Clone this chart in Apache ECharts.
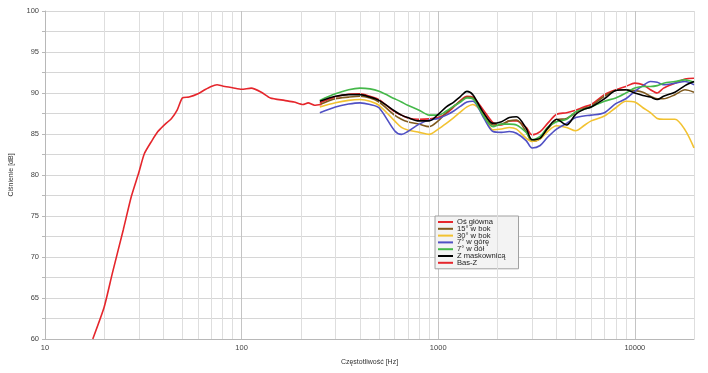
<!DOCTYPE html>
<html>
<head>
<meta charset="utf-8">
<script src="https://cdn.jsdelivr.net/npm/echarts@6/dist/echarts.min.js"></script>
<style>html,body{margin:0;padding:0;background:#fff;}#c{width:708px;height:373px;}</style>
</head>
<body>
<div id="c"></div>
<script>
// Frequencies (Hz) for the measured curves
var freqs = [250,300,350,400,450,500,600,650,700,800,900,1000,1100,1200,1300,1400,1500,1700,1900,2100,2300,2500,2800,3000,3300,3600,4000,4500,5000,5500,6000,7000,8000,9000,10000,11000,12000,13000,14000,16000,18000,20000];
var osGlowna   = [88.8,89.5,89.85,89.9,89.6,89.2,87.7,87.3,86.95,86.8,86.85,87.0,87.5,88.3,89.1,89.6,89.5,87.9,86.4,86.1,86.6,86.6,85.8,84.9,85.3,86.3,87.4,87.6,87.9,88.3,88.6,89.8,90.4,90.8,91.2,91.0,90.4,90.0,90.6,91.2,91.7,91.8];
var bok15      = [88.6,89.3,89.5,89.6,89.4,88.9,87.3,86.8,86.5,86.2,85.9,86.6,87.6,88.4,89.0,89.5,89.4,87.4,86.1,86.2,86.6,86.7,85.3,84.1,84.4,85.6,86.7,86.9,87.6,88.1,88.4,89.6,90.3,90.4,90.3,90.1,89.6,89.3,89.3,89.8,90.4,90.1];
var bok30      = [88.3,88.8,89.1,89.2,89.0,88.5,86.6,85.8,85.5,85.2,84.96,85.6,86.3,87.0,87.7,88.3,88.6,87.4,85.5,85.6,85.8,85.6,84.5,84.1,84.4,85.3,86.0,85.8,85.4,86.0,86.6,87.2,88.2,89.0,88.9,88.2,87.6,86.9,86.8,86.8,85.5,83.3];
var gora7      = [87.6,88.3,88.65,88.8,88.6,88.2,85.4,84.95,85.3,86.2,86.7,86.9,87.3,87.8,88.4,88.9,89.0,87.0,85.3,85.2,85.3,85.1,84.2,83.3,83.6,84.6,85.6,86.3,87.0,87.2,87.3,87.6,88.7,89.3,90.2,90.9,91.4,91.3,91.0,91.2,91.4,91.0];
var dol7       = [89.1,89.9,90.4,90.6,90.5,90.2,89.3,88.9,88.5,87.9,87.3,87.3,87.8,88.4,88.9,89.4,89.3,87.2,85.9,86.2,86.2,86.1,85.2,84.3,84.7,85.8,86.5,86.8,87.7,88.0,88.3,89.0,89.4,90.0,90.6,90.8,90.8,90.9,91.2,91.4,91.6,91.3];
var maskownica = [89.0,89.6,89.8,89.8,89.5,89.1,87.8,87.3,87.0,86.6,86.6,87.4,88.3,88.9,89.6,90.2,89.8,87.6,86.3,86.5,87.0,87.1,85.7,84.3,84.5,85.7,86.8,86.1,87.4,88.0,88.3,89.3,90.3,90.4,90.0,89.7,89.5,89.2,89.6,90.1,90.9,91.4];
// Bass driver curve
var basFreqs = [17.5,20,22,25,27.5,30,32,35,37.5,40,44,47,50,54,60,65,70,75,80,90,100,112,126,140,165,185,205,218,235,255];
var basZ     = [60,63.9,68.0,73.3,77.4,80.3,82.6,84.2,85.3,86.0,86.9,87.9,89.4,89.5,89.9,90.4,90.8,91.0,90.85,90.65,90.45,90.6,90.1,89.4,89.1,88.9,88.6,88.8,88.5,88.6];
// Minor grid frequencies
var minorFreqs = [20,30,40,50,60,70,80,90,200,300,400,500,600,700,800,900,2000,3000,4000,5000,6000,7000,8000,9000,20000];

var names = ['Oś główna','15° w bok','30° w bok','7° w górę','7° w dół','Z maskownicą','Bas-Z'];
var colors = ['#e5262c','#7f5a1e','#f2c230','#5050c4','#45b84a','#000000','#e5262c'];
var sets = [osGlowna,bok15,bok30,gora7,dol7,maskownica];

function pairs(xs, ys){ return xs.map(function(x,i){ return [x, ys[i]]; }); }

var series = [{
  type:'line', name:'_grid', data:[], silent:true, z:1,
  markLine:{ silent:true, symbol:['none','none'], label:{show:false},
    lineStyle:{color:'#dedede', type:'solid', width:1},
    animation:false,
    data: minorFreqs.map(function(f){ return {xAxis:f}; }) }
}];
sets.forEach(function(s,i){
  series.push({ type:'line', name:names[i], data:pairs(freqs,s), showSymbol:false, smooth:0.3,
    lineStyle:{width:1.6, color:colors[i]}, itemStyle:{color:colors[i]}, z:3+i });
});
series.push({ type:'line', name:names[6], data:pairs(basFreqs,basZ), showSymbol:false, smooth:0.2,
  lineStyle:{width:1.6, color:colors[6]}, itemStyle:{color:colors[6]}, z:10 });

var chart = echarts.init(document.getElementById('c'));
chart.setOption({
  animation:false,
  backgroundColor:'#ffffff',
  grid:{left:44, right:14, top:11, bottom:34},
  legend:{
    data:names, orient:'vertical', left:435, top:216,
    icon:'rect', itemWidth:15, itemHeight:2, itemGap:-1.2,
    backgroundColor:'#f3f3f3', borderColor:'#a0a0a0', borderWidth:1, padding:[2,13,2,3],
    textStyle:{fontSize:7.6, color:'#222', fontFamily:'Liberation Sans', lineHeight:6.2, padding:[0,0,0,-1]}
  },
  xAxis:{
    type:'log', logBase:10, min:10, max:20000,
    name:'Częstotliwość [Hz]', nameLocation:'middle', nameGap:20,
    nameTextStyle:{fontSize:7, color:'#333', fontFamily:'Liberation Sans'},
    axisLine:{show:true, lineStyle:{color:'#b8b8b8'}},
    axisTick:{show:false},
    axisLabel:{fontSize:7.5, color:'#444', fontFamily:'Liberation Sans', margin:5, showMaxLabel:false,
      formatter:function(v){ return String(Math.round(v)); }},
    splitLine:{show:true, lineStyle:{color:'#c4c4c4', width:1}}
  },
  yAxis:{
    type:'value', min:60, max:100, interval:2.5,
    name:'Ciśnienie [dB]', nameLocation:'middle', nameGap:30,
    nameTextStyle:{fontSize:7, color:'#333', fontFamily:'Liberation Sans'},
    axisLine:{show:true, lineStyle:{color:'#b8b8b8'}},
    axisTick:{show:true, length:3, lineStyle:{color:'#b8b8b8'}},
    axisLabel:{fontSize:7.5, color:'#444', fontFamily:'Liberation Sans', margin:6,
      formatter:function(v){ return (v % 5 === 0) ? String(v) : ''; }},
    splitLine:{show:true, lineStyle:{color:'#d6d6d6', width:1}}
  },
  series:series
});
</script>
</body>
</html>
